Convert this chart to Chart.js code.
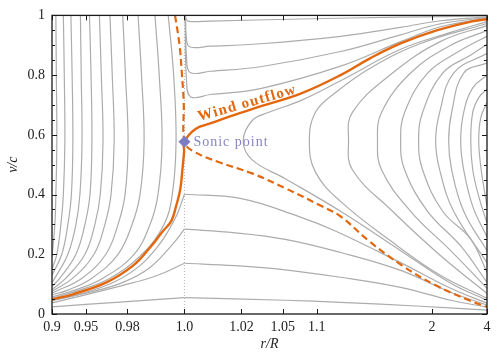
<!DOCTYPE html>
<html>
<head>
<meta charset="utf-8">
<script src="https://cdn.jsdelivr.net/npm/chart.js@4.4.1/dist/chart.umd.min.js"></script>
<style>
  html, body { margin: 0; padding: 0; background: #fff; }
  #wrap { width: 498px; height: 360px; }
</style>
</head>
<body>
<div id="wrap"><canvas id="chart"></canvas></div>
<script>
// axis ticks
const xTicks = [0.9, 0.95, 0.98, 1.0, 1.02, 1.05, 1.1, 2, 4];
const xTickLabels = ['0.9', '0.95', '0.98', '1.0', '1.02', '1.05', '1.1', '2', '4'];
const yTicks = [0, 0.2, 0.4, 0.6, 0.8, 1];
const yTickLabels = ['0', '0.2', '0.4', '0.6', '0.8', '1'];

// critical point and the two separatrices, [r/R, v/c]
const sonicPoint = [[1.0, 0.577]];
const windOutflow = [[0.9, 0.049], [0.9345, 0.066], [0.968, 0.107], [0.9826, 0.162], [0.9894, 0.223],
  [0.9937, 0.278], [0.9962, 0.311], [0.9976, 0.361], [0.9988, 0.417], [0.9995, 0.493], [0.9999, 0.543],
  [1.0, 0.577], [1.0031, 0.619], [1.0077, 0.638], [1.0149, 0.662], [1.031, 0.695], [1.072, 0.738],
  [1.161, 0.80], [1.293, 0.857], [1.535, 0.906], [2.08, 0.949], [3.17, 0.979], [4, 0.987]];
const accretion = [[0.9973, 1.0], [0.9986, 0.901], [0.9993, 0.80], [0.9998, 0.708], [1.0, 0.577],
  [1.0021, 0.548], [1.0105, 0.509], [1.0257, 0.471], [1.0526, 0.421], [1.104, 0.366], [1.161, 0.327],
  [1.283, 0.245], [1.553, 0.162], [2.076, 0.096], [3.1, 0.046], [4, 0.024]];
const criticalRadius = [[1.0, 0], [1.0, 1]];

// left family (r < R)
const left1 = [[0.9075, 1], [0.9084, 0.8], [0.9093, 0.577], [0.9075, 0.4], [0.9056, 0.3], [0.9, 0.19]];
const left2 = [[0.9205, 1], [0.922, 0.8], [0.9229, 0.577], [0.9205, 0.4], [0.9164, 0.3], [0.9093, 0.2], [0.9, 0.15]];
const left3 = [[0.9318, 1], [0.9335, 0.8], [0.9345, 0.577], [0.9325, 0.4], [0.9275, 0.3], [0.918, 0.2], [0.9, 0.13]];
const left4 = [[0.9439, 1], [0.9448, 0.8], [0.9457, 0.577], [0.9433, 0.4], [0.9385, 0.3], [0.9275, 0.2], [0.9056, 0.12], [0.9, 0.105]];
const left5 = [[0.9535, 1], [0.955, 0.8], [0.9558, 0.577], [0.954, 0.4], [0.9489, 0.3], [0.9385, 0.2], [0.9147, 0.12], [0.9, 0.092]];
const left6 = [[0.9623, 1], [0.9638, 0.8], [0.9651, 0.577], [0.963, 0.4], [0.9585, 0.3], [0.9489, 0.2], [0.9245, 0.12], [0.9, 0.082]];
const left7 = [[0.970, 1], [0.9715, 0.8], [0.9727, 0.577], [0.9707, 0.4], [0.9665, 0.3], [0.9577, 0.2], [0.9345, 0.12], [0.9, 0.076]];
const left8 = [[0.9776, 1], [0.979, 0.8], [0.9803, 0.577], [0.9788, 0.4], [0.975, 0.3], [0.9672, 0.2], [0.9457, 0.12], [0.9, 0.07]];
const left9 = [[0.9848, 1], [0.9862, 0.8], [0.9872, 0.577], [0.9856, 0.4], [0.9822, 0.3], [0.975, 0.2], [0.9558, 0.12], [0.9275, 0.08], [0.9, 0.064]];
const left10 = [[0.9911, 1], [0.9925, 0.8], [0.9934, 0.577], [0.9921, 0.4], [0.9894, 0.3], [0.9831, 0.2], [0.9651, 0.12], [0.9372, 0.08], [0.9, 0.057]];
const left11 = [[0.9953, 1], [0.9969, 0.8], [0.9976, 0.577], [0.9965, 0.4], [0.994, 0.3], [0.9864, 0.2], [0.970, 0.12], [0.9433, 0.08], [0.9, 0.052]];

// upper family (start at R, accelerate)
const upper1 = [[1.0003, 1.0], [1.0004, 0.99], [1.0012, 0.98], [1.0077, 0.981], [1.072, 0.988], [1.535, 0.994], [4, 0.998]];
const upper2 = [[1.0003, 1.0], [1.0005, 0.93], [1.0015, 0.895], [1.0077, 0.897], [1.031, 0.905], [1.161, 0.93], [1.535, 0.96], [2.19, 0.982], [4, 0.995]];
const upper3 = [[1.0003, 1.0], [1.0006, 0.86], [1.0016, 0.809], [1.0077, 0.813], [1.031, 0.828], [1.161, 0.879], [1.535, 0.935], [2.19, 0.972], [4, 0.993]];
const upper4 = [[1.0002, 1.0], [1.0006, 0.78], [1.0018, 0.727], [1.0077, 0.735], [1.031, 0.755], [1.161, 0.83], [1.535, 0.912], [2.19, 0.962], [4, 0.99]];

// right family (turn at the sonic speed)
const right1 = [[4, 0.979], [2.453, 0.943], [1.535, 0.8865], [1.161, 0.781], [1.072, 0.7145], [1.0368, 0.675], [1.0258, 0.648],
  [1.0209, 0.579], [1.0258, 0.516], [1.0526, 0.453], [1.161, 0.344], [1.535, 0.212], [2.453, 0.103], [4, 0.046]];
const right2 = [[4, 0.973], [1.797, 0.906], [1.293, 0.824], [1.145, 0.741], [1.097, 0.675], [1.086, 0.579],
  [1.097, 0.476], [1.161, 0.377], [1.438, 0.245], [2.19, 0.129], [4, 0.053]];
const right3 = [[4, 0.966], [2.19, 0.913], [1.455, 0.807], [1.204, 0.675], [1.189, 0.579], [1.204, 0.483], [1.455, 0.344], [2.19, 0.195], [4, 0.069]];
const right4 = [[4, 0.949], [2.453, 0.90], [1.653, 0.807], [1.365, 0.675], [1.337, 0.579], [1.365, 0.483], [1.653, 0.344], [2.453, 0.212], [4, 0.086]];
const right5 = [[4, 0.93], [2.774, 0.883], [1.917, 0.807], [1.579, 0.675], [1.535, 0.579], [1.579, 0.483], [1.917, 0.344], [2.774, 0.228], [4, 0.106]];
const right6 = [[4, 0.903], [3.17, 0.867], [2.238, 0.807], [1.829, 0.675], [1.766, 0.579], [1.829, 0.483], [2.238, 0.344], [3.17, 0.251], [4, 0.139]];
const right7 = [[4, 0.873], [2.542, 0.807], [2.166, 0.675], [2.076, 0.579], [2.166, 0.483], [2.542, 0.344], [4, 0.172]];
const right8 = [[4, 0.84], [2.884, 0.807], [2.482, 0.675], [2.396, 0.579], [2.482, 0.483], [2.884, 0.344], [4, 0.212]];
const right9 = [[4, 0.80], [3.256, 0.7575], [2.884, 0.675], [2.774, 0.579], [2.884, 0.483], [3.256, 0.3606], [4, 0.258]];
const right10 = [[4, 0.754], [3.544, 0.7245], [3.256, 0.675], [3.17, 0.579], [3.256, 0.483], [3.544, 0.394], [4, 0.304]];
const right11 = [[4, 0.708], [3.65, 0.658], [3.544, 0.579], [3.65, 0.493], [3.81, 0.427], [4, 0.3606]];

// breeze family (peak at R), split at the peak
const breeze1L = [[0.9, 0.024], [0.976, 0.040], [1.0, 0.055]];
const breeze1R = [[1.0, 0.055], [1.0526, 0.046], [1.161, 0.039], [1.797, 0.026], [4, 0.013]];
const breeze2L = [[0.9, 0.037], [0.9777, 0.096], [0.9918, 0.129], [1.0, 0.17]];
const breeze2R = [[1.0, 0.17], [1.0171, 0.162], [1.0526, 0.148], [1.161, 0.123], [1.535, 0.089], [2.453, 0.046], [4, 0.023]];
const breeze3L = [[0.9, 0.046], [0.954, 0.073], [0.9777, 0.106], [0.9894, 0.156], [0.9967, 0.235], [1.0, 0.284]];
const breeze3R = [[1.0, 0.284], [1.0171, 0.272], [1.0526, 0.250], [1.161, 0.206], [1.535, 0.146], [2.453, 0.073], [4, 0.03]];
const breeze4L = [[0.9, 0.045], [0.9433, 0.066], [0.9727, 0.107], [0.9856, 0.162], [0.9918, 0.223], [0.9953, 0.278], [0.9979, 0.333], [0.999, 0.368], [1.0, 0.401]];
const breeze4R = [[1.0, 0.401], [1.0194, 0.387], [1.0688, 0.327], [1.145, 0.278], [1.535, 0.172], [2.453, 0.086], [4, 0.036]];

const grayCurves = [left1, left2, left3, left4, left5, left6, left7, left8, left9, left10, left11,
  upper1, upper2, upper3, upper4,
  right1, right2, right3, right4, right5, right6, right7, right8, right9, right10, right11,
  breeze1L, breeze1R, breeze2L, breeze2R, breeze3L, breeze3R, breeze4L, breeze4R];

const ORANGE = '#e2670f';
const SONIC = '#7d7dc2';
const SERIF = '"Liberation Serif", "DejaVu Serif", serif';

// r/R axis: stretched around R (asinh)
const W = 0.0143;
const warp = r => Math.asinh((r - 1) / W);
const unwarp = u => 1 + W * Math.sinh(u);

class AsinhScale extends Chart.LinearScale {
  buildTicks() {
    return xTicks.map(v => ({ value: v }));
  }
  getPixelForValue(value) {
    const a = warp(this.min), b = warp(this.max);
    return this.getPixelForDecimal((warp(value) - a) / (b - a));
  }
  getValueForPixel(pixel) {
    const a = warp(this.min), b = warp(this.max);
    return unwarp(a + this.getDecimalForPixel(pixel) * (b - a));
  }
}
AsinhScale.id = 'asinh';
AsinhScale.defaults = {};
Chart.register(AsinhScale);

const toXY = arr => arr.map(p => ({ x: p[0], y: p[1] }));

const frame = {
  id: 'frame',
  afterDatasetsDraw(chart) {
    const { ctx, chartArea: a, scales: { x, y } } = chart;
    ctx.save();
    ctx.strokeStyle = '#1a1a1a';
    ctx.lineWidth = 1;
    ctx.beginPath();
    xTicks.forEach(t => {
      const px = Math.round(x.getPixelForValue(t)) + 0.5;
      ctx.moveTo(px, a.bottom); ctx.lineTo(px, a.bottom - 5);
      ctx.moveTo(px, a.top); ctx.lineTo(px, a.top + 5);
    });
    for (let i = 0; i <= 20; i++) {
      const py = Math.round(y.getPixelForValue(i * 0.05)) + 0.5;
      const len = i % 4 === 0 ? 5 : 3;
      ctx.moveTo(a.left, py); ctx.lineTo(a.left + len, py);
      ctx.moveTo(a.right, py); ctx.lineTo(a.right - len, py);
    }
    ctx.stroke();
    ctx.lineWidth = 1.3;
    ctx.strokeRect(a.left, a.top, a.right - a.left, a.bottom - a.top);

    // labels
    const sx = x.getPixelForValue(sonicPoint[0][0]);
    const sy = y.getPixelForValue(sonicPoint[0][1]);
    ctx.fillStyle = '#8585c6';
    ctx.font = '14px ' + SERIF;
    ctx.letterSpacing = '1px';
    ctx.textBaseline = 'middle';
    ctx.fillText('Sonic point', sx + 9, sy + 1);

    const wx = x.getPixelForValue(1.0043);
    const wy = y.getPixelForValue(0.646);
    ctx.translate(wx, wy);
    ctx.rotate(-16 * Math.PI / 180);
    ctx.fillStyle = ORANGE;
    ctx.font = 'bold 15px ' + SERIF;
    ctx.letterSpacing = '1.2px';
    ctx.textBaseline = 'alphabetic';
    ctx.fillText('Wind outflow', 0, 0);
    ctx.restore();
  }
};

const datasets = [
  {
    data: toXY(sonicPoint), showLine: false, pointStyle: 'rectRot', pointRadius: 6,
    pointBackgroundColor: SONIC, pointBorderColor: SONIC, pointBorderWidth: 0
  },
  { data: toXY(windOutflow), borderColor: ORANGE, borderWidth: 2.4, pointRadius: 0, tension: 0.4 },
  { data: toXY(accretion), borderColor: ORANGE, borderWidth: 2.2, borderDash: [7, 4], pointRadius: 0, tension: 0.4 },
  ...grayCurves.map(c => ({ data: toXY(c), borderColor: '#acacac', borderWidth: 1.2, pointRadius: 0, tension: 0.4 })),
  { data: toXY(criticalRadius), borderColor: '#b5b5b5', borderWidth: 1, borderDash: [1, 2], pointRadius: 0 }
];

new Chart(document.getElementById('chart'), {
  type: 'line',
  data: { datasets },
  plugins: [frame],
  options: {
    responsive: true,
    maintainAspectRatio: false,
    animation: false,
    layout: { padding: { top: 12, right: 11, left: 0, bottom: 0 } },
    plugins: { legend: { display: false }, tooltip: { enabled: false } },
    scales: {
      x: {
        type: 'asinh', min: 0.9, max: 4,
        grid: { display: false, drawTicks: false },
        border: { display: false },
        ticks: {
          autoSkip: false, maxRotation: 0, padding: 5, color: '#222',
          font: { family: SERIF, size: 14 },
          callback: (v, i) => xTickLabels[i]
        },
        title: {
          display: true, text: 'r/R', color: '#222',
          font: { family: SERIF, size: 14, style: 'italic' },
          padding: { top: 0, bottom: 7 }
        },
        afterFit: s => { s.height = 46; }
      },
      y: {
        type: 'linear', min: 0, max: 1,
        grid: { display: false, drawTicks: false },
        border: { display: false },
        afterBuildTicks: s => { s.ticks = yTicks.map(v => ({ value: v })); },
        ticks: {
          padding: 7, color: '#222',
          font: { family: SERIF, size: 14 },
          callback: (v, i) => yTickLabels[i]
        },
        title: {
          display: true, text: 'v/c', color: '#222',
          font: { family: SERIF, size: 14, style: 'italic' },
          padding: { top: 5, bottom: 0 }
        },
        afterFit: s => { s.width = 52; }
      }
    }
  }
});
</script>
</body>
</html>
